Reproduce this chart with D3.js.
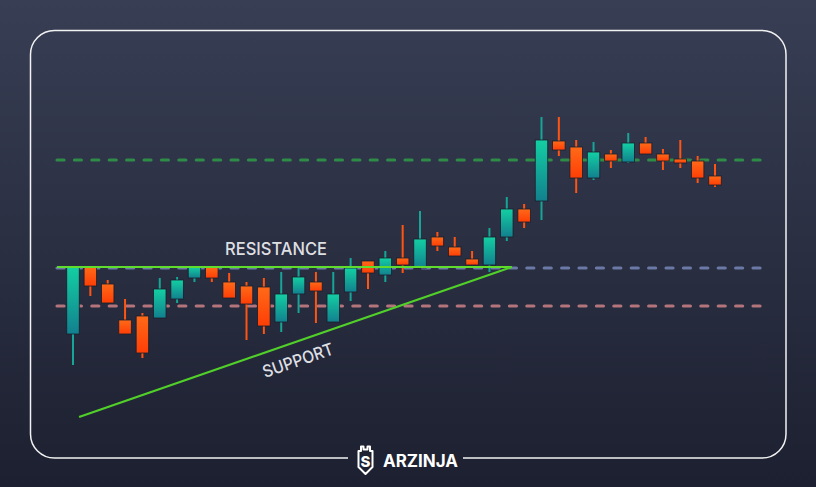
<!DOCTYPE html>
<html>
<head>
<meta charset="utf-8">
<script src="https://cdn.jsdelivr.net/npm/d3@7"></script>
<style>
  html, body { margin: 0; padding: 0; background: #262b3c; }
  svg { display: block; }
</style>
</head>
<body>
<svg id="chart" width="816" height="487"></svg>
<script>
// ---- Data (price units) ----
const openVals  = [86,153,136,100,104,102,121,142,153,138,134,133, 98,126,138, 98,128,159,145,162,152,183,173,161,155,183,211,219,279,273,242,266,258,277,266,261,259,244];
const highVals  = [153,153,140,121,107,142,143,153,153,147,138,142,148,152,148,148,162,159,169,195,209,188,183,169,192,223,216,303,303,280,278,270,287,283,271,280,264,256];
const lowVals   = [55,124,117, 86, 62,102,117,138,138,122, 80, 86, 88,107, 97, 98,119,131,138,147,152,169,164,155,148,179,192,200,264,227,240,252,257,266,250,252,237,233];
const closeVals = [153,134,117, 86, 67,131,140,153,142,122,116, 94,126,143,129,126,152,147,162,155,181,174,164,155,183,211,198,280,270,242,268,259,277,266,259,257,242,235];

const levelNames  = ["upper", "middle", "lower"];
const levelValues = [260, 152, 114];
const resistanceValue = 153;
const supportIdx   = [0.35, 25.3];
const supportPrice = [3, 153];
const labels = ["RESISTANCE", "SUPPORT"];
const brand = "ARZINJA";

// ---- Setup ----
const svg = d3.select("#chart");
const W = 816, H = 487;
const n = openVals.length;
const x = d3.scaleLinear().domain([0, n - 1]).range([73, 715]);
const y = d3.scaleLinear().domain([0, 320]).range([420, 100]);
const bodyW = 12.5;

const defs = svg.append("defs");
const bg = defs.append("linearGradient").attr("id", "bg").attr("x1", 0).attr("y1", 0).attr("x2", 0).attr("y2", 1);
bg.append("stop").attr("offset", "0%").attr("stop-color", "#383e54");
bg.append("stop").attr("offset", "100%").attr("stop-color", "#1c2030");

const gUp = defs.append("linearGradient").attr("id", "gUp").attr("x1", 0).attr("y1", 0).attr("x2", 0).attr("y2", 1);
gUp.append("stop").attr("offset", "0%").attr("stop-color", "#13cfa3");
gUp.append("stop").attr("offset", "100%").attr("stop-color", "#12808e");
const gDn = defs.append("linearGradient").attr("id", "gDn").attr("x1", 0).attr("y1", 0).attr("x2", 0).attr("y2", 1);
gDn.append("stop").attr("offset", "0%").attr("stop-color", "#ff6a18");
gDn.append("stop").attr("offset", "100%").attr("stop-color", "#ff3e06");

svg.append("rect").attr("width", W).attr("height", H).attr("fill", "url(#bg)");

// Frame (with gap for logo at bottom)
const fx0 = 30.5, fy0 = 30.5, fx1 = 786, fy1 = 458, r = 24;
const frame = d3.path();
frame.moveTo(348, fy1);
frame.lineTo(fx0 + r, fy1);
frame.arcTo(fx0, fy1, fx0, fy1 - r, r);
frame.lineTo(fx0, fy0 + r);
frame.arcTo(fx0, fy0, fx0 + r, fy0, r);
frame.lineTo(fx1 - r, fy0);
frame.arcTo(fx1, fy0, fx1, fy0 + r, r);
frame.lineTo(fx1, fy1 - r);
frame.arcTo(fx1, fy1, fx1 - r, fy1, r);
frame.lineTo(463, fy1);
svg.append("path").attr("d", frame.toString()).attr("fill", "none")
  .attr("stroke", "#f2f2f2").attr("stroke-width", 1.5);

// Level dashed lines
const levelColors = {upper: "#2f8b48", middle: "#6a79a6", lower: "#b4747b"};
svg.append("g").selectAll("line").data(levelValues).join("line")
  .attr("x1", x(-0.92)).attr("x2", x(39.6))
  .attr("y1", d => y(d)).attr("y2", d => y(d))
  .attr("stroke", (d, i) => levelColors[levelNames[i]])
  .attr("stroke-width", 3.2)
  .attr("stroke-linecap", "round")
  .attr("stroke-dasharray", "7 10.4");

// Candles
const idx = d3.range(n);
const cg = svg.append("g");
cg.selectAll("line.wick").data(idx).join("line")
  .attr("class", "wick")
  .attr("x1", i => x(i)).attr("x2", i => x(i))
  .attr("y1", i => y(highVals[i])).attr("y2", i => y(lowVals[i]))
  .attr("stroke", i => closeVals[i] >= openVals[i] ? "#16a596" : "#ff5412")
  .attr("stroke-width", 2);
cg.selectAll("rect.body").data(idx).join("rect")
  .attr("class", "body")
  .attr("x", i => x(i) - bodyW / 2)
  .attr("width", bodyW)
  .attr("y", i => y(Math.max(openVals[i], closeVals[i])))
  .attr("height", i => Math.max(3, Math.abs(y(openVals[i]) - y(closeVals[i]))))
  .attr("fill", i => closeVals[i] >= openVals[i] ? "url(#gUp)" : "url(#gDn)")
  .attr("stroke", "#1a1e2c").attr("stroke-width", 0.8);

// Resistance line
svg.append("line")
  .attr("x1", x(-0.92)).attr("x2", x(supportIdx[1]))
  .attr("y1", y(resistanceValue)).attr("y2", y(resistanceValue))
  .attr("stroke", "#5fdc2c").attr("stroke-width", 2.2);

// Support line
svg.append("line")
  .attr("x1", x(supportIdx[0])).attr("y1", y(supportPrice[0]))
  .attr("x2", x(supportIdx[1])).attr("y2", y(supportPrice[1]))
  .attr("stroke", "#52d02a").attr("stroke-width", 2.2);

// Labels
svg.append("text")
  .attr("x", 276).attr("y", 255)
  .attr("text-anchor", "middle")
  .attr("font-family", "Inter, 'Noto Sans', sans-serif")
  .attr("font-weight", 500).attr("font-size", 17.5)
  .attr("textLength", 102).attr("lengthAdjust", "spacingAndGlyphs")
  .attr("fill", "#dedfe3")
  .text(labels[0]);

const ang = Math.atan2(y(supportPrice[1]) - y(supportPrice[0]), x(supportIdx[1]) - x(supportIdx[0])) * 180 / Math.PI;
svg.append("text")
  .attr("transform", `translate(300,366) rotate(${ang})`)
  .attr("text-anchor", "middle")
  .attr("font-family", "Inter, 'Noto Sans', sans-serif")
  .attr("font-weight", 500).attr("font-size", 17)
  .attr("textLength", 74).attr("lengthAdjust", "spacingAndGlyphs")
  .attr("fill", "#dedfe3")
  .text(labels[1]);

// Logo
const logo = svg.append("g");
const sh = d3.path();
sh.moveTo(358.5, 451); sh.lineTo(361, 451); sh.lineTo(361, 446.5); sh.lineTo(363.5, 446.5); sh.lineTo(363.5, 449.5);
sh.lineTo(367.5, 449.5); sh.lineTo(367.5, 446.5); sh.lineTo(370, 446.5); sh.lineTo(370, 451); sh.lineTo(372.5, 451);
sh.lineTo(372.5, 467); sh.lineTo(365.5, 474); sh.lineTo(358.5, 467); sh.closePath();
logo.append("path").attr("d", sh.toString()).attr("fill", "none").attr("stroke", "#ffffff").attr("stroke-width", 2).attr("stroke-linejoin", "round");
logo.append("text").attr("x", 365.5).attr("y", 467)
  .attr("text-anchor", "middle")
  .attr("font-family", "Inter, sans-serif").attr("font-weight", 800).attr("font-size", 15)
  .attr("fill", "#ffffff").text("S");
logo.append("text").attr("x", 383).attr("y", 467)
  .attr("font-family", "Inter, 'Noto Sans', sans-serif")
  .attr("font-weight", 700).attr("font-size", 17)
  .attr("textLength", 75).attr("lengthAdjust", "spacingAndGlyphs")
  .attr("fill", "#ffffff").text(brand);
</script>
</body>
</html>
